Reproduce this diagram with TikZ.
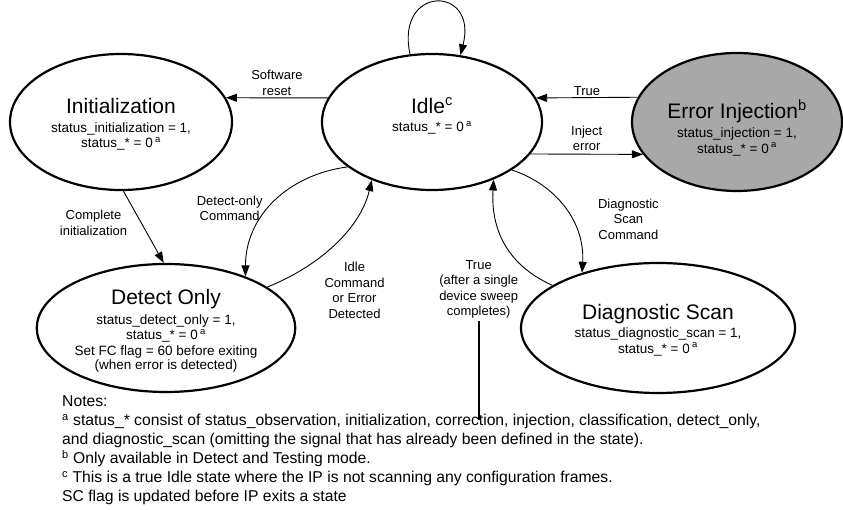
\documentclass[tikz,border=0pt]{standalone}
\usepackage{fontspec}
\setmainfont{Liberation Sans}
\definecolor{injgray}{RGB}{168, 168, 168}
\usetikzlibrary{shapes.geometric, arrows.meta}

\tikzset{
  state/.style={ellipse, draw=black, line width=2.2pt, inner sep=0pt, align=center,
    font=\fontsize{13.5}{15.5}\selectfont},
  trans/.style={-{Triangle[length=11pt, width=8pt]}, line width=0.9pt},
  lbl/.style={font=\fontsize{13}{15.5}\selectfont, align=center, inner sep=2pt},
  notes/.style={font=\fontsize{15.7}{19}\selectfont, align=left, inner sep=0pt, anchor=north west},
}
\newcommand{\stitle}[1]{{\fontsize{21}{25}\selectfont #1}}
\newcommand{\supa}{\,\textsuperscript{a}}

\begin{document}
\begin{tikzpicture}[x=1pt, y=1pt]
  \useasboundingbox (0,0) rectangle (843,510);

  % States
  \node[state, minimum width=222pt, minimum height=136pt, text height=54pt] (init) at (121, 388)
    {\stitle{Initialization}\\[3pt] status\_initialization = 1,\\ status\_* = 0\supa};
  \node[state, minimum width=220pt, minimum height=136pt, text depth=14pt] (idle) at (432, 388)
    {\stitle{Idle\textsuperscript{c}}\\[3pt] status\_* = 0\supa};
  \node[state, fill=injgray, minimum width=210pt, minimum height=138pt, text height=65pt] (err) at (737, 388)
    {\stitle{Error Injection\textsuperscript{b}}\\[4pt] status\_injection = 1,\\ status\_* = 0\supa};
  \node[state, minimum width=252pt, minimum height=128pt, text height=86pt] (det) at (166, 182)
    {\stitle{Detect Only}\\[4pt] status\_detect\_only = 1,\\ status\_* = 0\supa\\
     Set FC flag = 60 before exiting\\[-1pt] (when error is detected)};
  \node[state, minimum width=274pt, minimum height=130pt, text height=53pt] (diag) at (658, 182)
    {\stitle{Diagnostic Scan}\\[3pt] status\_diagnostic\_scan = 1,\\ status\_* = 0\supa};

  % Transitions
  \draw[trans] (idle.167) -- node[lbl, above] {Software\\reset} (init.13);
  \draw[trans] (idle.108) .. controls +(-15,70) and +(18,70) .. (idle.67);
  \draw[trans] (err.166) -- node[lbl, above] {True} (idle.13);
  \draw[trans] (idle.-18) -- node[lbl, above=1pt] {Inject\\error} (err.199);
  \draw[trans] (init.-88) -- node[lbl, left=14pt, yshift=4pt] {Complete\\initialization} (det.92);
  \draw[trans] (idle.208) .. controls +(-60,-8) and +(0,60) ..
    node[lbl, pos=0.5, left=9pt, yshift=-6pt] {Detect-only\\Command} (det.33);
  \draw[trans] (det.22) .. controls +(50,20) and +(-12,-50) ..
    node[lbl, pos=0.35, anchor=north west, xshift=6pt] {Idle\\Command\\or Error\\Detected} (idle.224);
  \draw[trans] (idle.-31) .. controls +(45,-15) and +(3,50) ..
    node[lbl, pos=0.6, right=24pt] {Diagnostic\\Scan\\Command} (diag.144);
  \draw[trans] (diag.158) .. controls +(-45,20) and +(-3,-50) ..
    node[lbl, pos=0, left=32pt, yshift=-4pt] (ttrue) {True\\(after a single\\device sweep\\completes)} (idle.-43);

  \coordinate (sweepend) at (477, 90);
  \draw[line width=1.8pt] (ttrue.south) -- (ttrue.south |- sweepend);

  % Notes
  \node[notes] (notelist) at (62, 114) {Notes:\\
    \textsuperscript{a} status\_* consist of status\_observation, initialization, correction, injection, classification, detect\_only,\\
    and diagnostic\_scan (omitting the signal that has already been defined in the state).\\
    \textsuperscript{b} Only available in Detect and Testing mode.\\
    \textsuperscript{c} This is a true Idle state where the IP is not scanning any configuration frames.\\
    SC flag is updated before IP exits a state};
\end{tikzpicture}
\end{document}
